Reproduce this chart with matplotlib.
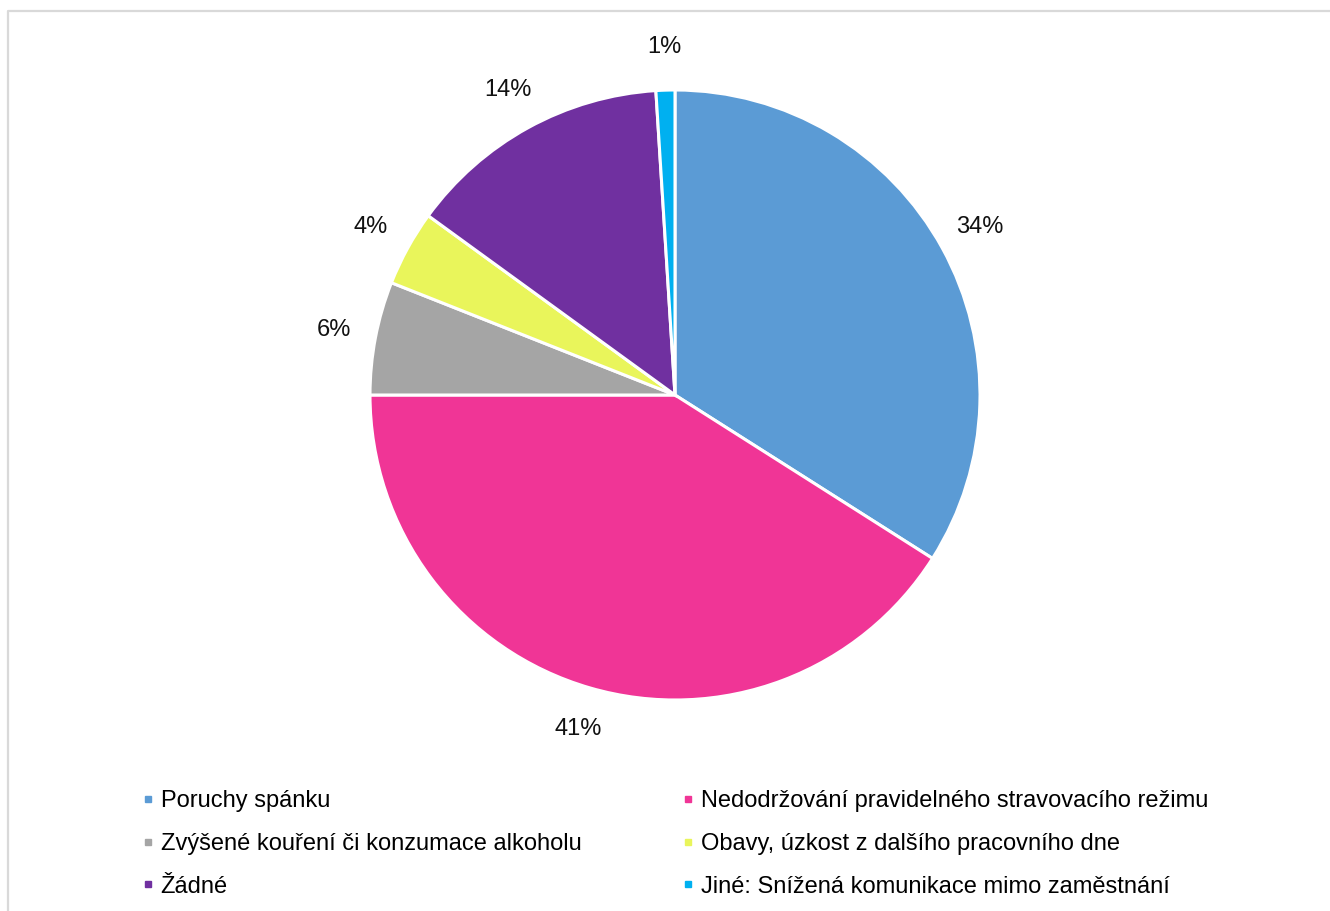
import matplotlib.pyplot as plt
from matplotlib.lines import Line2D

plt.rcParams["font.family"] = ["Liberation Sans", "DejaVu Sans"]

categories = [
    "Poruchy spánku",
    "Nedodržování pravidelného stravovacího režimu",
    "Zvýšené kouření či konzumace alkoholu",
    "Obavy, úzkost z dalšího pracovního dne",
    "Žádné",
    "Jiné: Snížená komunikace mimo zaměstnání",
]
values = [34, 41, 6, 4, 14, 1]
colors = ["#5B9BD5", "#F03596", "#A5A5A5", "#E9F55B", "#7030A0", "#00B0F0"]

W, H = 1330, 911
fig = plt.figure(figsize=(W / 100, H / 100), dpi=100)

# light frame around the chart area (only left and top edges visible)
fig.add_artist(Line2D([8 / W, 8 / W, 1.0], [0.0, 1 - 11 / H, 1 - 11 / H],
                      transform=fig.transFigure, color="#D9D9D9", lw=1.6))

# pie axes: centre at (675, 395) px from top, radius 305 px
R = 305 * 1.2
cx, cy = 675, H - 395
ax = fig.add_axes([(cx - R) / W, (cy - R) / H, 2 * R / W, 2 * R / H])
wedges, _, autotexts = ax.pie(
    values,
    colors=colors,
    startangle=90,
    counterclock=False,
    autopct="%.0f%%",
    pctdistance=1.14,
    wedgeprops=dict(edgecolor="white", linewidth=2.2),
    textprops=dict(fontsize=17, color="#111111"),
)
ax.set_xlim(-1.2, 1.2)
ax.set_ylim(-1.2, 1.2)
ax.set_aspect("equal")
ax.axis("off")

# legend laid out row by row in two columns
order = [0, 2, 4, 1, 3, 5]
handles = [Line2D([], [], marker="s", linestyle="none", markersize=5,
                  markerfacecolor=colors[i], markeredgecolor=colors[i]) for i in order]
labels = [categories[i] for i in order]
fig.legend(handles, labels, ncol=2, frameon=False, fontsize=17,
           loc="upper left", bbox_to_anchor=(143 / W, 1 - 790 / H),
           handlelength=0.4, handletextpad=0.35, labelspacing=0.88,
           columnspacing=4.3, borderpad=0, borderaxespad=0)

fig.savefig("out.png", dpi=100)
